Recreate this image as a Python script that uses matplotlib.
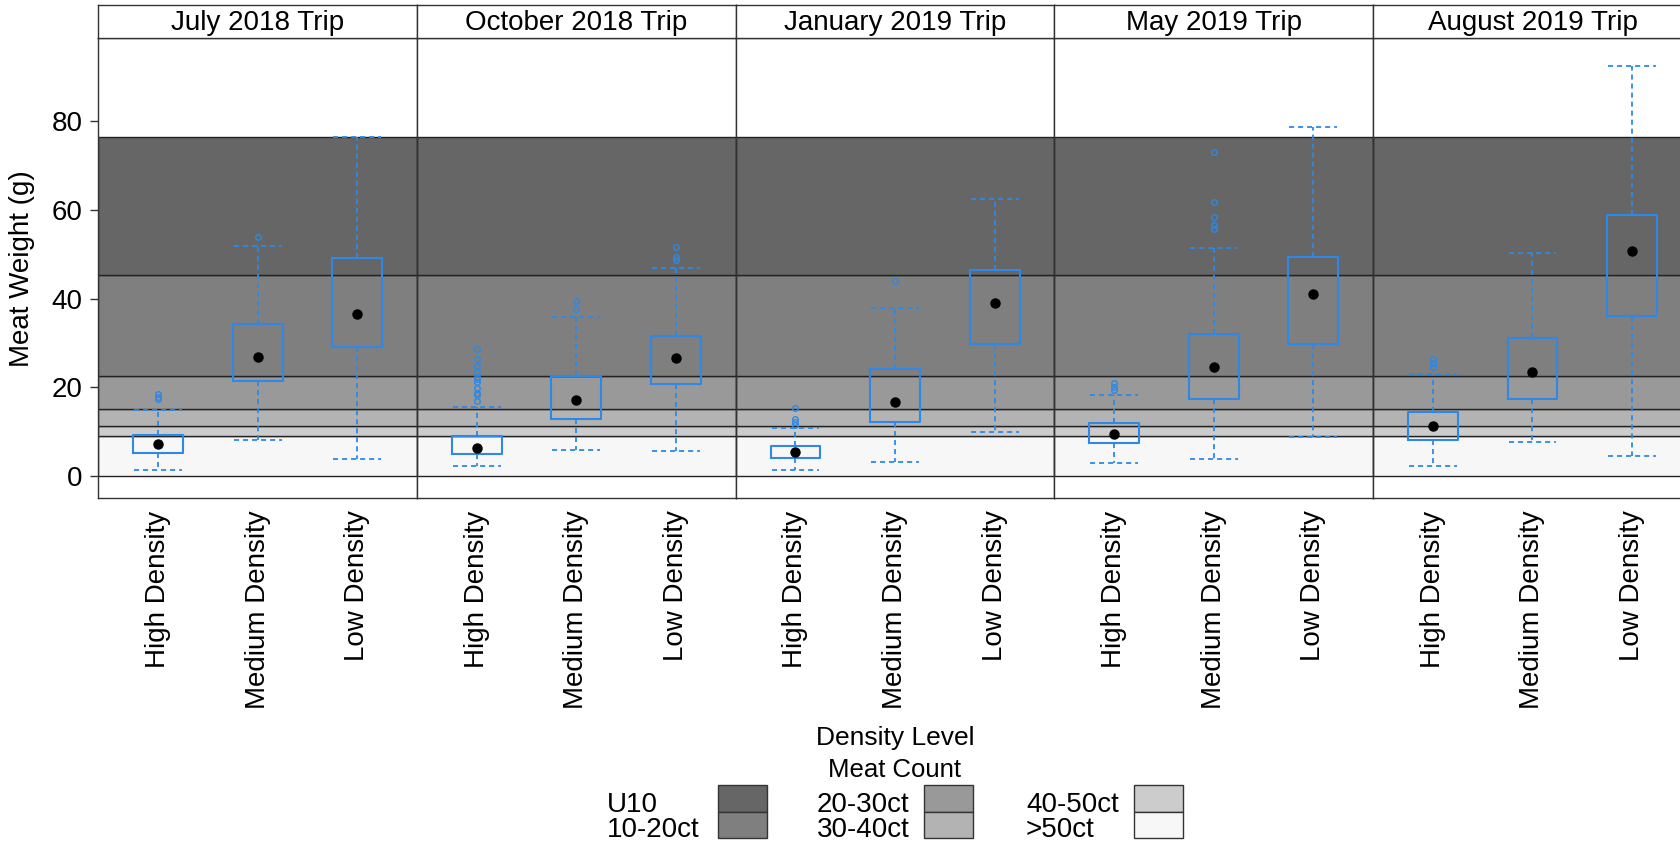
import matplotlib
matplotlib.use("Agg")
import matplotlib.pyplot as plt
from matplotlib.patches import Rectangle

plt.rcParams['font.family'] = ['Liberation Sans', 'DejaVu Sans']

# ******** data ********
trips = ["July 2018 Trip", "October 2018 Trip", "January 2019 Trip",
         "May 2019 Trip", "August 2019 Trip"]
densities = ["High Density", "Medium Density", "Low Density"]

whislo = [[1.4, 8.1, 3.8], [2.3, 6.0, 5.6], [1.5, 3.1, 10.0], [2.9, 3.8, 8.9], [2.3, 7.7, 4.6]]
q1 = [[5.3, 21.4, 29.1], [5.0, 12.8, 20.7], [4.1, 12.2, 29.7], [7.5, 17.3, 29.7], [8.1, 17.5, 36.1]]
means = [[7.3, 26.9, 36.6], [6.4, 17.1, 26.7], [5.4, 16.7, 39.1], [9.6, 24.7, 41.0], [11.3, 23.5, 50.8]]
q3 = [[9.2, 34.3, 49.2], [9.1, 22.6, 31.6], [6.8, 24.1, 46.4], [11.9, 32.1, 49.4], [14.5, 31.1, 58.9]]
whishi = [[15.0, 51.8, 76.4], [15.5, 35.8, 46.8], [10.9, 37.9, 62.4], [18.3, 51.4, 78.7], [23.1, 50.2, 92.4]]
outliers = [
    [[17.4, 17.9, 18.5], [53.9], []],
    [[16.9, 18.3, 18.8, 19.8, 21.3, 21.9, 22.4, 23.5, 24.8, 26.4, 28.6], [37.6, 39.4], [48.7, 49.4, 51.5]],
    [[11.5, 12.1, 12.8, 15.4], [43.9], []],
    [[19.4, 20.1, 20.9], [55.7, 56.5, 58.4, 61.7, 73.0], []],
    [[24.6, 25.5, 26.3], [], []],
]

# meat count bands (g), low to high
band_edges = [0, 9.07, 11.34, 15.12, 22.68, 45.36, 76.4]
band_labels = [">50ct", "40-50ct", "30-40ct", "20-30ct", "10-20ct", "U10"]
band_colors = ["#F7F7F7", "#CCCCCC", "#B3B3B3", "#999999", "#7F7F7F", "#666666"]

# ******** layout (pixels) ********
W, H = 1681, 844
left_px = 98.3
pw = 318.7   # last panel runs a bit past the right edge, as in the original
top_px, bot_px, strip_top = 38.3, 498, 5
blue = "#2D89E5"
edge = "#222222"

fig = plt.figure(figsize=(W / 100, H / 100), dpi=100)

for i, trip in enumerate(trips):
    ax = fig.add_axes([(left_px + i * pw) / W, 1 - bot_px / H, pw / W, (bot_px - top_px) / H])
    for k in range(len(band_labels)):
        ax.axhspan(band_edges[k], band_edges[k + 1], facecolor=band_colors[k],
                   edgecolor=edge, lw=1, zorder=0)
    stats = []
    for j in range(len(densities)):
        stats.append(dict(whislo=whislo[i][j], q1=q1[i][j], med=means[i][j], q3=q3[i][j],
                          whishi=whishi[i][j], mean=means[i][j], fliers=outliers[i][j]))
    ax.bxp(stats, positions=[1, 2, 3], widths=0.5, capwidths=0.48, showmeans=True,
           boxprops=dict(color=blue, lw=1.5),
           whiskerprops=dict(color=blue, lw=1.3, ls=(0, (2.8, 2.2))),
           capprops=dict(color=blue, lw=1.3, ls=(0, (2.8, 2.2))),
           medianprops=dict(lw=0),
           meanprops=dict(marker='o', mfc='black', mec='black', ms=6.5),
           flierprops=dict(marker='o', mfc='none', mec=blue, ms=4, mew=1))
    ax.set_xlim(0.4, 3.6)
    ax.set_ylim(-4.9, 98.6)
    ax.set_xticks([1, 2, 3])
    ax.set_xticklabels(densities, rotation=90, fontsize=20)
    ax.tick_params(axis='x', length=0, pad=9)
    ax.set_yticks([0, 20, 40, 60, 80])
    if i == 0:
        ax.tick_params(axis='y', labelsize=20, length=5.5, width=1, pad=6, color="#333333")
        ax.set_ylabel("Meat Weight (g)", fontsize=20, labelpad=12)
    else:
        ax.tick_params(axis='y', left=False, labelleft=False)
    for s in ax.spines.values():
        s.set_color("#333333")
        s.set_linewidth(1)

    # strip header
    sax = fig.add_axes([(left_px + i * pw) / W, 1 - top_px / H, pw / W, (top_px - strip_top) / H])
    sax.set_xticks([])
    sax.set_yticks([])
    for s in sax.spines.values():
        s.set_color("#333333")
        s.set_linewidth(1)
    sax.text(0.5, 0.45, trip, ha='center', va='center', fontsize=20, transform=sax.transAxes)

# ******** axis title and legend ********
cx = 895
fig.text(cx / W, 1 - 745 / H, "Density Level", ha='center', va='baseline', fontsize=19)
fig.text(cx / W, 1 - 777 / H, "Meat Count", ha='center', va='baseline', fontsize=18.5)

text_x = [607, 817, 1026]
patch_x = [718, 924, 1134]
row_top = [785, 811.5]
row_base = [811.5, 837]
leg_labels = band_labels[::-1]
leg_colors = band_colors[::-1]
for n, (lab, col) in enumerate(zip(leg_labels, leg_colors)):
    c, r = n // 2, n % 2
    fig.add_artist(Rectangle((patch_x[c] / W, 1 - (row_top[r] + 26.5) / H), 49 / W, 26.5 / H,
                             transform=fig.transFigure, facecolor=col, edgecolor="#333333", lw=1))
    fig.text(text_x[c] / W, 1 - row_base[r] / H, lab, ha='left', va='baseline', fontsize=20)

fig.savefig("out.png", dpi=100)
